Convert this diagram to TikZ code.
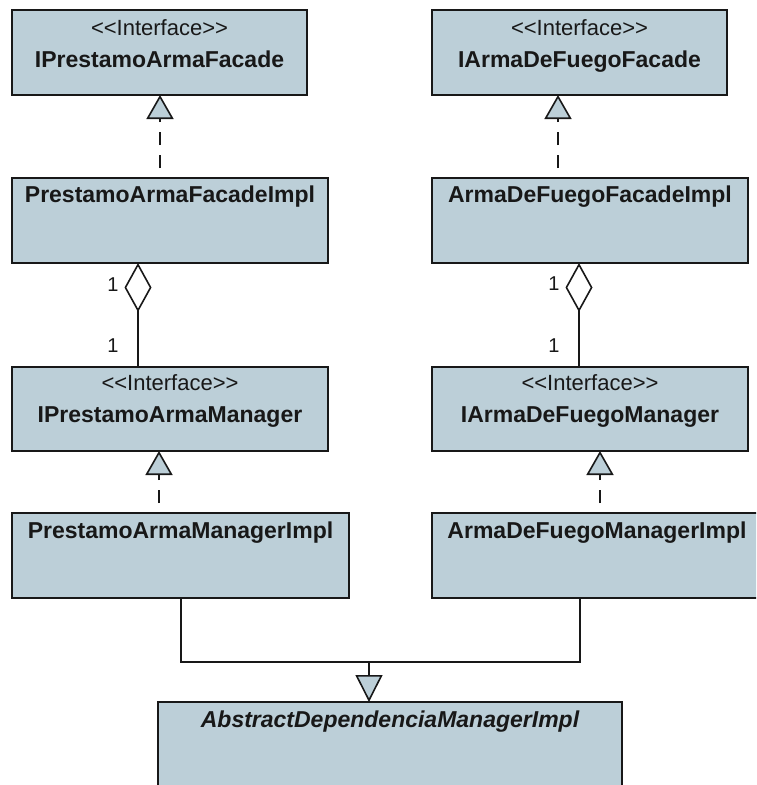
\documentclass[tikz,border=0pt]{standalone}
\usepackage{fontspec}
\newfontfamily\umlfont{Liberation Sans}
\usetikzlibrary{arrows.meta}
\definecolor{classfill}{RGB}{188,207,216}
\definecolor{ink}{RGB}{24,24,24}
\tikzset{
  classbox/.style={draw=ink, fill=classfill, line width=1.6pt, rectangle, inner sep=0pt, outer sep=0pt},
  stereo/.style={anchor=base, inner sep=0pt, text=ink, font=\umlfont\fontsize{22}{26}\selectfont},
  cname/.style={anchor=base, inner sep=0pt, text=ink, font=\umlfont\fontsize{23}{27}\selectfont\bfseries},
  aname/.style={anchor=base, inner sep=0pt, text=ink, font=\umlfont\fontsize{23}{27}\selectfont\bfseries\itshape},
  mult/.style={inner sep=0pt, text=ink, font=\umlfont\fontsize{20}{24}\selectfont},
  conn/.style={draw=ink, line width=1.6pt},
  realize/.style={conn, dash pattern=on 13pt off 10pt, dash phase=13pt,
    -{Triangle[width=27pt,length=24pt,fill=classfill]}},
  aggregate/.style={conn, -{Diamond[width=27pt,length=49pt,fill=white]}},
  generalize/.style={conn, -{Triangle[width=27pt,length=27pt,fill=classfill]}},
}
\begin{document}
\begin{tikzpicture}[x=1pt,y=-1pt]
\clip (0,0) rectangle (756,785);
\fill[white] (0,0) rectangle (756,785);

% left column: prestamo de armas
\node[classbox, minimum width=295pt, minimum height=85pt] (b1) at (159.5,52.5) {};
\node[stereo] (b1s) at ([yshift=-25pt]b1.north) {<<Interface>>};
\node[cname]  (b1n) at ([yshift=-57pt]b1.north) {IPrestamoArmaFacade};

\node[classbox, minimum width=316pt, minimum height=85pt] (b2) at (170,220.5) {};
\node[cname]  (b2n) at ([yshift=-24pt]b2.north) {PrestamoArmaFacadeImpl};

\node[classbox, minimum width=316pt, minimum height=84pt] (b3) at (170,409) {};
\node[stereo] (b3s) at ([yshift=-23pt]b3.north) {<<Interface>>};
\node[cname]  (b3n) at ([yshift=-55pt]b3.north) {IPrestamoArmaManager};

\node[classbox, minimum width=337pt, minimum height=85pt] (b4) at (180.5,555.5) {};
\node[cname]  (b4n) at ([yshift=-25pt]b4.north) {PrestamoArmaManagerImpl};

% right column: armas de fuego
\node[classbox, minimum width=295pt, minimum height=85pt] (ba) at (579.5,52.5) {};
\node[stereo] (bas) at ([yshift=-25pt]ba.north) {<<Interface>>};
\node[cname]  (ban) at ([yshift=-57pt]ba.north) {IArmaDeFuegoFacade};

\node[classbox, minimum width=316pt, minimum height=85pt] (bb) at (590,220.5) {};
\node[cname]  (bbn) at ([yshift=-24pt]bb.north) {ArmaDeFuegoFacadeImpl};

\node[classbox, minimum width=316pt, minimum height=84pt] (bc) at (590,409) {};
\node[stereo] (bcs) at ([yshift=-23pt]bc.north) {<<Interface>>};
\node[cname]  (bcn) at ([yshift=-55pt]bc.north) {IArmaDeFuegoManager};

\node[classbox, minimum width=330pt, minimum height=85pt] (bd) at (597,555.5) {};
\node[cname]  (bdn) at ([yshift=-25pt]bd.north) {ArmaDeFuegoManagerImpl};

% common abstract base
\node[classbox, minimum width=464pt, minimum height=100pt] (be) at (390,752) {};
\node[aname]  (ben) at ([yshift=-25pt]be.north) {AbstractDependenciaManagerImpl};

% realizations
\draw[realize] ([xshift=-10pt]b2.north) -- ([xshift=0.5pt]b1.south);
\draw[realize] ([xshift=-32pt]bb.north) -- ([xshift=-21.5pt]ba.south);
\draw[realize] ([xshift=-21.5pt]b4.north) -- ([xshift=-11pt]b3.south);
\draw[realize] ([xshift=3pt]bd.north) -- ([xshift=10pt]bc.south);

% aggregations with multiplicities
\draw[aggregate] ([xshift=-32pt]b3.north) -- ([xshift=-32pt]b2.south);
\node[mult] (m1) at (113,285) {1};
\node[mult] (m2) at (113,346) {1};
\draw[aggregate] ([xshift=-11pt]bc.north) -- ([xshift=-11pt]bb.south);
\node[mult] (m3) at (554,284) {1};
\node[mult] (m4) at (554,346) {1};

% generalization to the abstract class
\coordinate (jn) at (369,662);
\draw[conn] ([xshift=0.5pt]b4.south) |- (jn) -| ([xshift=-17pt]bd.south);
\draw[generalize] (jn) -- ([xshift=-21pt]be.north);
\end{tikzpicture}
\end{document}
